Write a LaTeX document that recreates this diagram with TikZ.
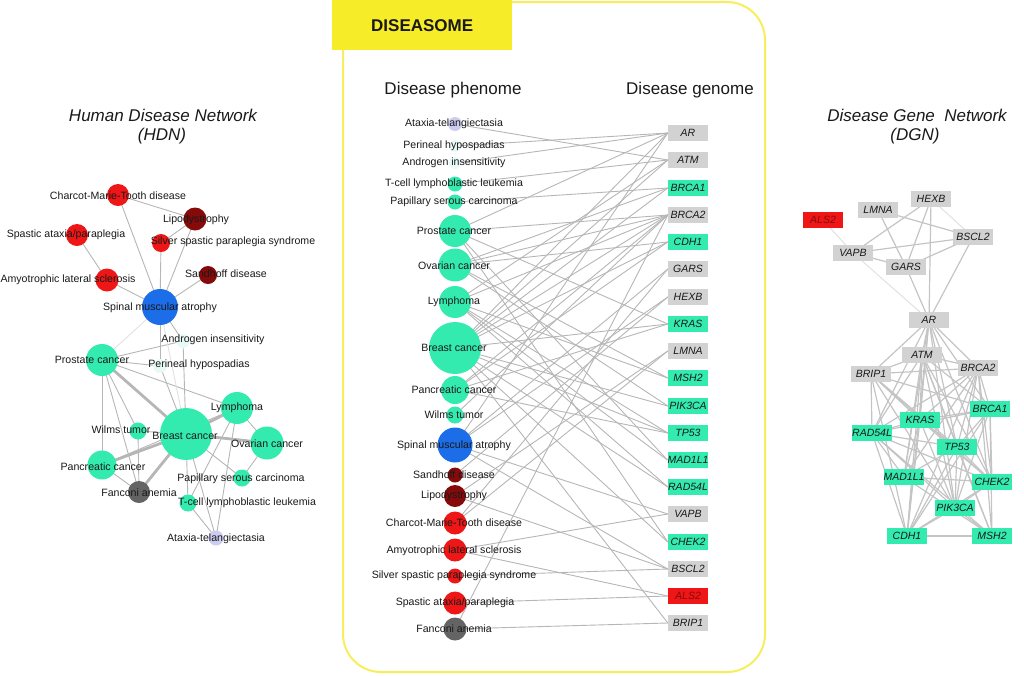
\documentclass[tikz,border=0pt]{standalone}
\usepackage{fontspec}
\setmainfont{Liberation Sans}
\pgfdeclarelayer{bg}
\pgfsetlayers{bg,main}
\definecolor{tealn}{RGB}{52,235,175}
\definecolor{redn}{RGB}{238,22,22}
\definecolor{dredn}{RGB}{135,10,10}
\definecolor{bluen}{RGB}{28,110,232}
\definecolor{grayn}{RGB}{100,100,100}
\definecolor{lavn}{RGB}{205,205,242}
\definecolor{faintn}{RGB}{232,250,247}
\definecolor{boxg}{RGB}{210,210,210}
\definecolor{edgeg}{RGB}{182,182,182}
\definecolor{edgel}{RGB}{225,225,225}
\definecolor{dedgec}{RGB}{196,196,196}
\definecolor{yel}{RGB}{247,236,40}
\definecolor{yelline}{RGB}{246,238,90}
\definecolor{txt}{RGB}{25,25,25}
\tikzset{
  dn/.style={circle, inner sep=0pt, draw=none, minimum size=#1},
  dn/.default=16,
  lab/.style={font=\fontsize{10.6}{12}\selectfont, text=txt, inner sep=0pt},
  gn/.style={rectangle, inner sep=0pt, minimum width=40pt, minimum height=16pt, font=\fontsize{10.5}{12}\selectfont\itshape, text=txt},
  gg/.style={gn, fill=boxg},
  gt/.style={gn, fill=tealn},
  gr/.style={gn, fill=redn, text=dredn},
  ttl/.style={font=\fontsize{17}{20}\selectfont, text=txt, inner sep=0pt},
  ttli/.style={ttl, font=\fontsize{17}{20}\selectfont\itshape},
  ed/.style={draw=edgeg, line width=0.9pt},
  edt/.style={draw=edgeg, line width=2.8pt},
  edf/.style={draw=edgel, line width=0.9pt},
  dedge/.style={draw=dedgec, line width=1.2pt},
  dedgef/.style={draw=edgel, line width=1pt},
  frame/.style={draw=yelline, line width=2pt, rounded corners=38pt},
  tabbox/.style={fill=yel, minimum width=180pt, minimum height=50pt, inner sep=0pt, anchor=north west, font=\bfseries\fontsize{17}{20}\selectfont, text=txt}
}
\begin{document}
\begin{tikzpicture}[x=1pt,y=-1pt]
\useasboundingbox (0,0) rectangle (1024,675);

% ---------------- frame ----------------
\draw[frame] (512,2) -- (765,2) -- (765,672) -- (343,672) -- (343,50);
\node[tabbox] (tab) at (332,0) {DISEASOME};

% ---------------- titles ----------------
\node[ttli] (t-hdn1) at (163,115) {Human Disease Network};
\node[ttli] (t-hdn2) at (162,136) {(HDN)};
\node[ttli] (t-dgn1) at (917,115) {Disease Gene~ Network};
\node[ttli] (t-dgn2) at (915,136) {(DGN)};
\node[ttl] (t-phen) at (453,90) {Disease phenome};
\node[ttl] (t-gen) at (690,90) {Disease genome};

% ---------------- HDN nodes ----------------
\node[dn=22, fill=redn] (h-cmt) at (118,195) {};
\node[dn=23, fill=dredn] (h-lip) at (195,219) {};
\node[dn=22, fill=redn] (h-spa) at (77,235) {};
\node[dn=18, fill=redn] (h-sil) at (161,243) {};
\node[dn=18, fill=dredn] (h-san) at (208,275) {};
\node[dn=23, fill=redn] (h-als) at (107,280) {};
\node[dn=36, fill=bluen] (h-sma) at (160,307) {};
\node[dn=14, fill=faintn] (h-and) at (183,341) {};
\node[dn=14, fill=faintn] (h-per) at (160,366) {};
\node[dn=32, fill=tealn] (h-pro) at (102,360) {};
\node[dn=32, fill=tealn] (h-lym) at (237,408) {};
\node[dn=17, fill=tealn] (h-wil) at (138,431) {};
\node[dn=52, fill=tealn] (h-bre) at (186,434) {};
\node[dn=33, fill=tealn] (h-ova) at (267,443) {};
\node[dn=29, fill=tealn] (h-pan) at (102,465) {};
\node[dn=17, fill=tealn] (h-pap) at (242,478) {};
\node[dn=22, fill=grayn] (h-fan) at (139,492) {};
\node[dn=17, fill=tealn] (h-tce) at (188,503) {};
\node[dn=15, fill=lavn] (h-ata) at (216,538) {};

\node[lab] (hl-cmt) at (118,196) {Charcot-Marie-Tooth disease};
\node[lab] (hl-lip) at (196,220) {Lipodystrophy};
\node[lab] (hl-spa) at (66,235) {Spastic ataxia/paraplegia};
\node[lab] (hl-sil) at (233,242) {Silver spastic paraplegia syndrome};
\node[lab] (hl-san) at (226,274) {Sandhoff disease};
\node[lab] (hl-als) at (68,280) {Amyotrophic lateral sclerosis};
\node[lab] (hl-sma) at (160,308) {Spinal muscular atrophy};
\node[lab] (hl-and) at (213,340) {Androgen insensitivity};
\node[lab] (hl-pro) at (92,360) {Prostate cancer};
\node[lab] (hl-per) at (199,365) {Perineal hypospadias};
\node[lab] (hl-lym) at (237,408) {Lymphoma};
\node[lab] (hl-wil) at (121,430) {Wilms tumor};
\node[lab] (hl-bre) at (185,436) {Breast cancer};
\node[lab] (hl-ova) at (267,444) {Ovarian cancer};
\node[lab] (hl-pan) at (103,467) {Pancreatic cancer};
\node[lab] (hl-pap) at (241,479) {Papillary serous carcinoma};
\node[lab] (hl-fan) at (139,493) {Fanconi anemia};
\node[lab] (hl-tce) at (247,503) {T-cell lymphoblastic leukemia};
\node[lab] (hl-ata) at (216,539) {Ataxia-telangiectasia};

% ---------------- middle: diseases ----------------
\node[dn=14, fill=lavn] (m-ata) at (455,124) {};
\node[dn=12, fill=faintn] (m-per) at (455,146) {};
\node[dn=12, fill=faintn] (m-and) at (455,163) {};
\node[dn=15, fill=tealn] (m-tce) at (455,184) {};
\node[dn=15, fill=tealn] (m-pap) at (455,202) {};
\node[dn=32, fill=tealn] (m-pro) at (455,231) {};
\node[dn=33, fill=tealn] (m-ova) at (455,265) {};
\node[dn=32, fill=tealn] (m-lym) at (455,302) {};
\node[dn=52, fill=tealn] (m-bre) at (455,348) {};
\node[dn=28, fill=tealn] (m-pan) at (455,390) {};
\node[dn=17, fill=tealn] (m-wil) at (455,415) {};
\node[dn=35, fill=bluen] (m-sma) at (455,445) {};
\node[dn=15, fill=dredn] (m-san) at (455,475) {};
\node[dn=22, fill=dredn] (m-lip) at (455,496) {};
\node[dn=23, fill=redn] (m-cmt) at (455,523) {};
\node[dn=23, fill=redn] (m-als) at (455,550) {};
\node[dn=15, fill=redn] (m-sil) at (455,576) {};
\node[dn=23, fill=redn] (m-spa) at (455,603) {};
\node[dn=23, fill=grayn] (m-fan) at (455,629) {};

\node[lab] (ml-ata) at (454,124) {Ataxia-telangiectasia};
\node[lab] (ml-per) at (454,146) {Perineal hypospadias};
\node[lab] (ml-and) at (454,163) {Androgen insensitivity};
\node[lab] (ml-tce) at (454,184) {T-cell lymphoblastic leukemia};
\node[lab] (ml-pap) at (454,202) {Papillary serous carcinoma};
\node[lab] (ml-pro) at (454,231) {Prostate cancer};
\node[lab] (ml-ova) at (454,266) {Ovarian cancer};
\node[lab] (ml-lym) at (454,302) {Lymphoma};
\node[lab] (ml-bre) at (454,348) {Breast cancer};
\node[lab] (ml-pan) at (454,390) {Pancreatic cancer};
\node[lab] (ml-wil) at (454,415) {Wilms tumor};
\node[lab] (ml-sma) at (454,446) {Spinal muscular atrophy};
\node[lab] (ml-san) at (454,475) {Sandhoff disease};
\node[lab] (ml-lip) at (454,496) {Lipodystrophy};
\node[lab] (ml-cmt) at (454,523) {Charcot-Marie-Tooth disease};
\node[lab] (ml-als) at (454,551) {Amyotrophic lateral sclerosis};
\node[lab] (ml-sil) at (454,576) {Silver spastic paraplegia syndrome};
\node[lab] (ml-spa) at (455,603) {Spastic ataxia/paraplegia};
\node[lab] (ml-fan) at (454,629) {Fanconi anemia};

% ---------------- middle: genes ----------------
\node[gg] (g-ar) at (688,133) {AR};
\node[gg] (g-atm) at (688,160) {ATM};
\node[gt] (g-brca1) at (688,188) {BRCA1};
\node[gg] (g-brca2) at (688,215) {BRCA2};
\node[gt] (g-cdh1) at (688,242) {CDH1};
\node[gg] (g-gars) at (688,269) {GARS};
\node[gg] (g-hexb) at (688,297) {HEXB};
\node[gt] (g-kras) at (688,324) {KRAS};
\node[gg] (g-lmna) at (688,351) {LMNA};
\node[gt] (g-msh2) at (688,378) {MSH2};
\node[gt] (g-pik3ca) at (688,406) {PIK3CA};
\node[gt] (g-tp53) at (688,433) {TP53};
\node[gt] (g-mad1l1) at (688,460) {MAD1L1};
\node[gt] (g-rad54l) at (688,487) {RAD54L};
\node[gg] (g-vapb) at (688,514) {VAPB};
\node[gt] (g-chek2) at (688,542) {CHEK2};
\node[gg] (g-bscl2) at (688,569) {BSCL2};
\node[gr] (g-als2) at (688,596) {ALS2};
\node[gg] (g-brip1) at (688,623) {BRIP1};

% ---------------- DGN genes ----------------
\node[gr] (d-als2) at (823,220) {ALS2};
\node[gg] (d-lmna) at (878,210) {LMNA};
\node[gg] (d-hexb) at (931,199) {HEXB};
\node[gg] (d-bscl2) at (973,237) {BSCL2};
\node[gg] (d-vapb) at (853,253) {VAPB};
\node[gg] (d-gars) at (906,267) {GARS};
\node[gg] (d-ar) at (929,320) {AR};
\node[gg] (d-atm) at (922,355) {ATM};
\node[gg] (d-brip1) at (871,374) {BRIP1};
\node[gg] (d-brca2) at (978,368) {BRCA2};
\node[gt] (d-brca1) at (990,409) {BRCA1};
\node[gt] (d-kras) at (920,420) {KRAS};
\node[gt] (d-rad54l) at (872,433) {RAD54L};
\node[gt] (d-tp53) at (957,447) {TP53};
\node[gt] (d-mad1l1) at (904,477) {MAD1L1};
\node[gt] (d-chek2) at (992,482) {CHEK2};
\node[gt] (d-pik3ca) at (955,508) {PIK3CA};
\node[gt] (d-cdh1) at (907,536) {CDH1};
\node[gt] (d-msh2) at (992,536) {MSH2};

% ---------------- edges (background) ----------------
\begin{pgfonlayer}{bg}
% HDN
\foreach \a/\b in {cmt/sma, cmt/lip, lip/sil, lip/sma, sil/sma, san/sma, spa/als, als/sma,
  sma/and, sma/per, and/pro, per/pro, and/bre, per/bre, pro/lym, pro/pan, pro/fan, pro/wil,
  wil/bre, wil/fan, pan/fan, lym/ova, lym/tce, lym/ata, ova/pap, bre/pap, bre/tce, bre/ata,
  tce/ata, lym/pan}
  \draw[ed] (h-\a.center) -- (h-\b.center);
\foreach \a/\b in {pro/bre, bre/lym, bre/ova, bre/pan, bre/fan}
  \draw[edt] (h-\a.center) -- (h-\b.center);
\foreach \a/\b in {sma/pro, sma/bre}
  \draw[edf] (h-\a.center) -- (h-\b.center);
% Diseasome bipartite
\foreach \d/\g in {ata/atm, per/ar, and/ar, tce/atm, pap/brca1,
  pro/ar, pro/brca2, pro/chek2, pro/mad1l1, pro/kras,
  ova/brca1, ova/brca2, ova/cdh1, ova/msh2, ova/pik3ca,
  lym/atm, lym/mad1l1, lym/rad54l, lym/msh2, lym/tp53, lym/brca2,
  bre/ar, bre/atm, bre/brca1, bre/brca2, bre/cdh1, bre/kras, bre/pik3ca, bre/tp53, bre/rad54l, bre/chek2, bre/brip1,
  pan/brca2, pan/kras, pan/tp53, pan/cdh1, wil/brca2,
  sma/ar, sma/gars, sma/hexb, sma/vapb, sma/bscl2, san/hexb,
  lip/lmna, lip/bscl2, cmt/gars, cmt/lmna, als/vapb, als/als2,
  sil/bscl2, spa/als2, fan/brca2, fan/brip1}
  \draw[ed] (m-\d.center) -- (g-\g.west);
% DGN
\foreach \a/\b in {lmna/gars, lmna/bscl2, hexb/vapb, hexb/gars, hexb/ar, vapb/bscl2, vapb/gars,
  gars/bscl2, gars/ar, bscl2/ar}
  \draw[dedge] (d-\a.center) -- (d-\b.center);
\foreach \a/\b in {hexb/bscl2, vapb/ar, als2/vapb}
  \draw[dedgef] (d-\a.center) -- (d-\b.center);
\foreach \a [count=\i] in {ar,atm,brca1,brca2,cdh1,kras,pik3ca,tp53,rad54l,chek2,brip1}{
  \foreach \b [count=\j] in {ar,atm,brca1,brca2,cdh1,kras,pik3ca,tp53,rad54l,chek2,brip1}{
    \ifnum\j>\i \draw[dedge] (d-\a.center) -- (d-\b.center);\fi
  }
}
\foreach \a/\b in {mad1l1/ar, mad1l1/brca2, mad1l1/chek2, mad1l1/kras, msh2/brca1, msh2/brca2,
  msh2/cdh1, msh2/pik3ca, mad1l1/atm, mad1l1/rad54l, mad1l1/msh2, mad1l1/tp53, msh2/atm,
  msh2/rad54l, msh2/tp53}
  \draw[dedge] (d-\a.center) -- (d-\b.center);
\end{pgfonlayer}
\end{tikzpicture}
\end{document}
